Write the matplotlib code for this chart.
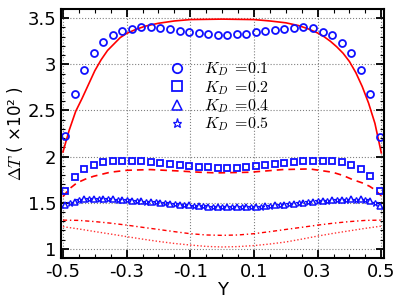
import numpy as np
import matplotlib.pyplot as plt
from matplotlib.ticker import MultipleLocator

plt.rcParams['mathtext.fontset'] = 'cm'

# sample positions of the symbols
y_pts = np.linspace(-0.493, 0.495, 34)
y_star = y_pts[:-1] + 0.015

kd01 = [2.218, 2.676, 2.938, 3.119, 3.237, 3.320, 3.363, 3.385, 3.403, 3.406,
        3.395, 3.378, 3.363, 3.349, 3.335, 3.330, 3.320, 3.320, 3.324, 3.327,
        3.349, 3.360, 3.367, 3.381, 3.395, 3.406, 3.395, 3.352, 3.313, 3.234,
        3.119, 2.938, 2.679, 2.215]
kd02 = [1.632, 1.780, 1.866, 1.913, 1.942, 1.952, 1.952, 1.956, 1.948, 1.937,
        1.926, 1.916, 1.905, 1.898, 1.890, 1.888, 1.880, 1.877, 1.877, 1.883,
        1.898, 1.905, 1.916, 1.931, 1.942, 1.948, 1.956, 1.956, 1.952, 1.937,
        1.909, 1.866, 1.794, 1.629]
kd04 = [1.470, 1.510, 1.535, 1.545, 1.540, 1.535, 1.530, 1.520, 1.515, 1.510,
        1.500, 1.490, 1.480, 1.473, 1.465, 1.458, 1.456, 1.455, 1.452, 1.450,
        1.455, 1.462, 1.470, 1.480, 1.490, 1.500, 1.510, 1.520, 1.527, 1.532,
        1.535, 1.535, 1.520, 1.460]
kd05 = [1.495, 1.525, 1.540, 1.540, 1.536, 1.530, 1.524, 1.516, 1.511, 1.504,
        1.494, 1.484, 1.476, 1.468, 1.460, 1.456, 1.454, 1.452, 1.450, 1.451,
        1.457, 1.465, 1.474, 1.484, 1.494, 1.504, 1.514, 1.522, 1.528, 1.532,
        1.533, 1.527, 1.495]

# red reference curves
y_sol = [-0.5, -0.48, -0.46, -0.44, -0.42, -0.40, -0.38, -0.36, -0.34, -0.32,
         -0.30, -0.27, -0.24, -0.20, -0.15, -0.10, 0.0, 0.10, 0.15, 0.20, 0.24,
         0.27, 0.30, 0.32, 0.34, 0.36, 0.38, 0.40, 0.42, 0.44, 0.46, 0.48, 0.5]
t_sol = [2.05, 2.29, 2.49, 2.63, 2.78, 2.93, 3.05, 3.15, 3.22, 3.29,
         3.335, 3.38, 3.415, 3.445, 3.47, 3.485, 3.49, 3.485, 3.47, 3.45, 3.42,
         3.385, 3.34, 3.30, 3.25, 3.19, 3.12, 3.03, 2.91, 2.76, 2.58, 2.36, 2.04]

y_dash = [-0.5, -0.48, -0.456, -0.43, -0.404, -0.352, -0.30, -0.226, -0.143,
          -0.07, -0.017, 0.087, 0.19, 0.275, 0.347, 0.38, 0.41, 0.44, 0.463,
          0.48, 0.5]
t_dash = [1.565, 1.65, 1.715, 1.755, 1.786, 1.830, 1.851, 1.859, 1.845,
          1.830, 1.823, 1.830, 1.859, 1.866, 1.830, 1.795, 1.750, 1.715, 1.678,
          1.640, 1.575]

y_lo = [-0.5, -0.45, -0.4, -0.35, -0.3, -0.25, -0.2, -0.15, -0.1, -0.05, 0.0,
        0.05, 0.1, 0.15, 0.2, 0.25, 0.3, 0.35, 0.4, 0.45, 0.5]
t_dashdot = [1.311, 1.308, 1.295, 1.278, 1.257, 1.233, 1.210, 1.186, 1.164,
             1.150, 1.146, 1.150, 1.164, 1.186, 1.210, 1.233, 1.257, 1.278,
             1.295, 1.308, 1.311]
t_dot = [1.240, 1.215, 1.187, 1.160, 1.132, 1.105, 1.080, 1.058, 1.041, 1.026,
         1.020, 1.024, 1.035, 1.052, 1.074, 1.105, 1.138, 1.168, 1.195, 1.222,
         1.246]

fig = plt.figure(figsize=(3.99, 2.99), dpi=100)
ax = fig.add_axes([0.153, 0.137, 0.809, 0.833])

ax.plot(y_sol, t_sol, color='red', lw=1.2)
ax.plot(y_dash, t_dash, color='red', lw=1.2, ls=(0, (4, 3)))
ax.plot(y_lo, t_dashdot, color='red', lw=1.0, ls=(0, (3, 2, 1, 2)))
ax.plot(y_lo, t_dot, color='red', lw=1.0, ls=(0, (1, 1.5)), alpha=0.8)

blue = '#1010ff'
ax.plot(y_pts, kd01, 'o', ms=5, mfc='none', mec=blue, mew=1.3, label=r'$K_D\;=\!0.1$')
ax.plot(y_pts, kd02, 's', ms=5, mfc='none', mec=blue, mew=1.3, label=r'$K_D\;=\!0.2$')
ax.plot(y_pts, kd04, '^', ms=5, mfc='none', mec=blue, mew=1.1, label=r'$K_D\;=\!0.4$')
ax.plot(y_star, kd05, '*', ms=5, mfc='none', mec=blue, mew=0.9, label=r'$K_D\;=\!0.5$')

leg = ax.legend(loc='upper left', bbox_to_anchor=(0.29, 0.85), frameon=False,
                fontsize=11.5, markerscale=1.35, handlelength=1.0,
                handletextpad=1.2, labelspacing=0.03)

ax.set_xlim(-0.506, 0.508)
ax.set_ylim(0.9, 3.6)
ax.xaxis.set_minor_locator(MultipleLocator(0.05))
ax.yaxis.set_minor_locator(MultipleLocator(0.1))
ax.set_xticks([-0.5, -0.3, -0.1, 0.1, 0.3, 0.5])
ax.set_xticklabels(['-0.5', '-0.3', '-0.1', '0.1', '0.3', '0.5'])
ax.set_yticks([1, 1.5, 2, 2.5, 3, 3.5])
ax.set_yticklabels(['1', '1.5', '2', '2.5', '3', '3.5'])

ax.grid(True, which='major', ls=':', color='gray', lw=0.8)
ax.tick_params(which='both', direction='in', top=True, right=True, labelsize=13)
ax.tick_params(which='major', length=6, width=1.3)
ax.tick_params(which='minor', length=3, width=0.8)
for s in ax.spines.values():
    s.set_linewidth(1.5)

ax.set_xlabel('Y', fontsize=13, labelpad=0)
ax.set_ylabel(r'$\Delta T$ ( ×10² )', fontsize=12, labelpad=2)

fig.savefig('out.png', dpi=100)
